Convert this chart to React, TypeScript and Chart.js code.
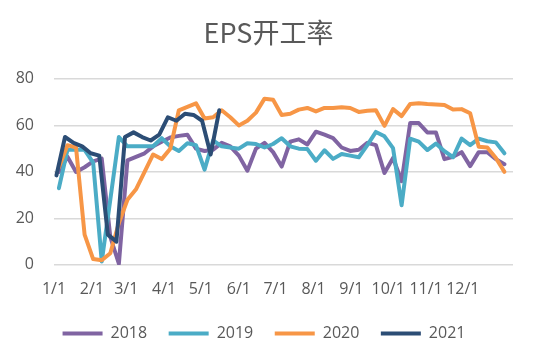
import { useEffect, useRef } from "react";
import { Chart, registerables } from "chart.js";

Chart.register(...registerables);

const chartTitle = "EPS开工率";
const monthLabels = ["1/1", "2/1", "3/1", "4/1", "5/1", "6/1", "7/1", "8/1", "9/1", "10/1", "11/1", "12/1"];
const seriesNames = ["2018", "2019", "2020", "2021"];
const firstWeekDates = ["1/5", "1/5", "1/5", "1/3"];
const seriesColors = ["#8064A2", "#4BACC6", "#F79646", "#2C4D75"];

const values2018 = [40, 46.5, 40, 42, 44.5, 45.7, 12, 0.5, 45, 46.5, 48, 51, 53, 54.8, 55.5, 56, 50, 49, 49.5, 52.5, 51, 47, 40.5, 50, 52.5, 48.5, 42.3, 53, 54, 51.8, 57.3, 56, 54.5, 50.5, 49, 49.5, 52.5, 51.5, 39.5, 46, 36, 61, 61, 57, 57, 45.5, 46.5, 48.5, 42.5, 48.5, 48.5, 45.5, 43.3];
const values2019 = [33, 49.5, 49.5, 49.5, 44, 1.5, 28, 55, 51, 51, 51, 51, 54.5, 51, 49, 52.3, 51.5, 41, 53.5, 51, 50.5, 50, 52.3, 52, 50.5, 52, 54.5, 51, 50, 49.8, 44.8, 49.3, 45.6, 47.7, 47, 46.3, 51.5, 57.2, 55.3, 50.2, 25.7, 54.3, 53, 49.4, 52.2, 48.9, 46.3, 54.3, 51.5, 54.3, 53.2, 52.7, 48];
const values2020 = [42, 51.5, 50.5, 13, 2.5, 2, 5, 18, 28, 32.5, 40, 47.5, 45.5, 50, 66.5, 68, 69.5, 63, 63.5, 66.5, 63.5, 60, 62, 65.5, 71.5, 71, 64.5, 65, 66.8, 67.5, 66, 67.5, 67.5, 67.8, 67.5, 65.8, 66.3, 66.5, 59.8, 67, 64, 69.2, 69.5, 69.2, 69, 68.8, 66.8, 67, 65.2, 50.8, 50.5, 46, 40];
const values2021 = [38.5, 55, 52.5, 51, 48, 47, 13, 10, 55, 57, 55, 53.5, 56, 63.5, 62, 65, 64.5, 62, 47.5, 66.5];

const yMin = 0;
const yMax = 80;
const yStep = 20;

const allValues = [values2018, values2019, values2020, values2021];

function dayOfYear(md: string): number {
  const [m, d] = md.split("/").map(Number);
  return (Date.UTC(2021, m - 1, d) - Date.UTC(2021, 0, 1)) / 86400000;
}

const textColor = "#595959";
const tickFont = { family: "'Open Sans', sans-serif", size: 16 };

const shiftTitle = {
  id: "shiftTitle",
  afterLayout(chart: any) {
    const t = chart.titleBlock;
    if (t) {
      t.left += 4.5;
      t.right += 4.5;
    }
  },
};

export default function App() {
  const canvasRef = useRef<HTMLCanvasElement | null>(null);

  useEffect(() => {
    const canvas = canvasRef.current;
    if (!canvas) return;

    const datasets = seriesNames.map((name, si) => {
      const start = dayOfYear(firstWeekDates[si]);
      return {
        label: name,
        data: allValues[si].map((v, i) => ({ x: start + 7 * i, y: v })),
        borderColor: seriesColors[si],
        backgroundColor: seriesColors[si],
        borderWidth: 4,
        borderCapStyle: "round" as const,
        borderJoinStyle: "round" as const,
        pointRadius: 0,
        pointHoverRadius: 0,
        tension: 0,
        fill: false,
        order: seriesNames.length - 1 - si,
      };
    });

    const chart = new Chart(canvas, {
      type: "line",
      data: { datasets },
      plugins: [shiftTitle],
      options: {
        animation: false,
        responsive: false,
        maintainAspectRatio: false,
        devicePixelRatio: 1,
        layout: { padding: { left: 15, right: 23, top: 0, bottom: 9.5 } },
        plugins: {
          title: {
            display: true,
            text: chartTitle,
            color: textColor,
            font: { family: "'Noto Sans CJK SC', sans-serif", size: 27, weight: "normal" },
            padding: { top: 17, bottom: 29.5 },
          },
          legend: {
            display: true,
            position: "bottom",
            labels: {
              usePointStyle: true,
              pointStyle: "line",
              pointStyleWidth: 40,
              color: textColor,
              font: tickFont,
              padding: 21.5,
              sort: (a: any, b: any) => a.datasetIndex - b.datasetIndex,
            },
          },
          tooltip: { enabled: false },
        },
        scales: {
          x: {
            type: "linear",
            min: 0,
            max: 375,
            grid: { display: false, drawTicks: false },
            border: { display: false },
            afterBuildTicks: (axis: any) => {
              axis.ticks = monthLabels.map((l) => ({ value: dayOfYear(l) }));
            },
            afterFit: (axis: any) => {
              axis.height = 39.1;
            },
            ticks: {
              autoSkip: false,
              maxRotation: 0,
              padding: 15,
              color: textColor,
              font: tickFont,
              callback: (_v: any, index: number) => monthLabels[index],
            },
          },
          y: {
            min: yMin,
            max: yMax,
            grid: { color: "#D9D9D9", lineWidth: 1.5, drawTicks: false },
            border: { display: false },
            afterFit: (axis: any) => {
              axis.width = 39;
            },
            ticks: {
              stepSize: yStep,
              padding: 20,
              color: textColor,
              font: tickFont,
            },
          },
        },
      },
    });

    return () => chart.destroy();
  }, []);

  return (
    <div style={{ position: "fixed", left: 0, top: 0, width: 536, height: 361, background: "#fff" }}>
      <canvas ref={canvasRef} width={536} height={361} />
    </div>
  );
}
